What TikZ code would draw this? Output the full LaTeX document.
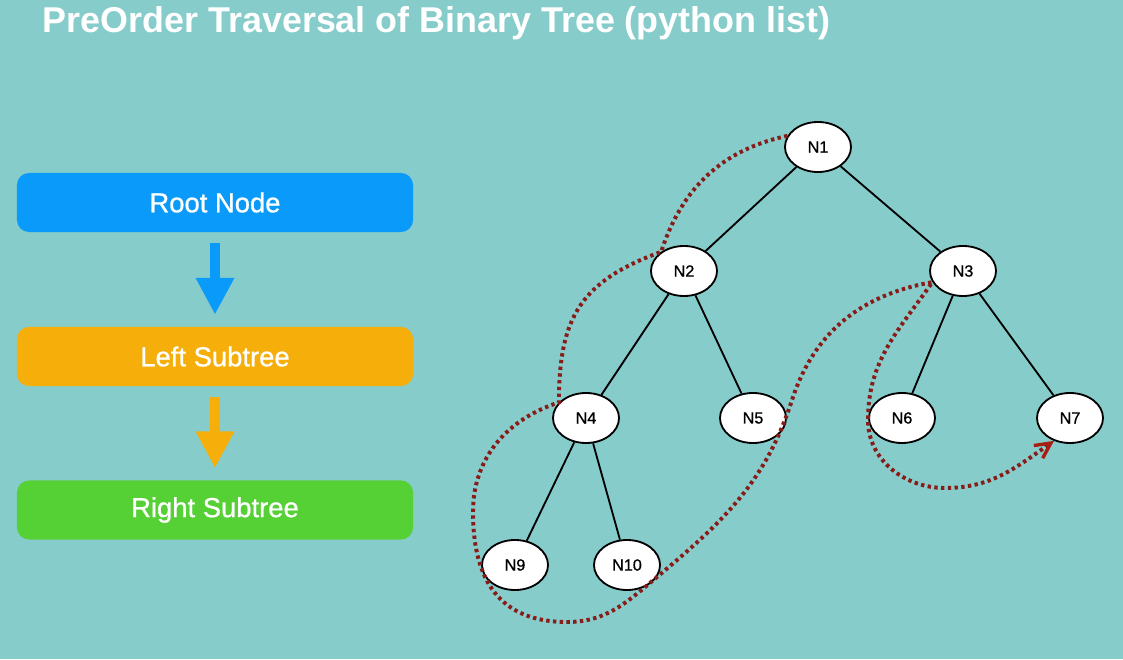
\documentclass[tikz,border=0pt]{standalone}
\usepackage{fontspec}
\setmainfont{Liberation Sans}
\newfontfamily\mediumfont[FakeBold=0.8]{Liberation Sans}
\usetikzlibrary{arrows.meta,shapes.geometric}
\definecolor{bgteal}{RGB}{134,204,203}
\definecolor{rootblue}{RGB}{10,155,250}
\definecolor{leftorange}{RGB}{245,174,10}
\definecolor{rightgreen}{RGB}{85,209,54}
\definecolor{travred}{RGB}{135,28,24}
\definecolor{tipred}{RGB}{168,30,16}
\begin{document}
\begin{tikzpicture}[x=0.025cm,y=0.025cm,
    treenode/.style={ellipse,draw=black,line width=1.3pt,fill=white,minimum width=1.65cm,minimum height=1.25cm,inner sep=0pt,font=\mediumfont\fontsize{11.5}{13}\selectfont},
    orderbox/.style={rounded corners=0.3cm,minimum width=9.9cm,minimum height=1.475cm,text=white,font=\mediumfont\fontsize{19.5}{22}\selectfont},
    flowarrow/.style={line width=0.25cm,-{Triangle[length=0.92cm,width=0.9cm]},shorten <=0.27cm,shorten >=0.3cm},
    treeedge/.style={line width=1.3pt},
    trav/.style={draw=travred,line width=2.8pt,line cap=butt,dash pattern=on 2.4pt off 2.4pt}]
                \fill[bgteal] (0,0) rectangle (1123,659);
                \useasboundingbox (0,0) rectangle (1123,659);
                \node[anchor=base west,text=white,font=\bfseries\fontsize{25.5}{30}\selectfont] (title) at (38,626) {PreOrder Traversal of Binary Tree (python list)};
                \node[orderbox,fill=rootblue] (root) at (215,456.5) {Root Node};
                \node[orderbox,fill=leftorange] (left) at (215,302.5) {Left Subtree};
                \node[orderbox,fill=rightgreen] (right) at (215,149) {Right Subtree};
                \draw[flowarrow,rootblue] (root) -- (left);
                \draw[flowarrow,leftorange] (left) -- (right);
                \node[treenode] (N1) at (818,512) {N1};
                \node[treenode] (N2) at (684,388) {N2};
                \node[treenode] (N3) at (963,388) {N3};
                \node[treenode] (N4) at (586,241) {N4};
                \node[treenode] (N5) at (753,241) {N5};
                \node[treenode] (N6) at (902,241) {N6};
                \node[treenode] (N7) at (1070,241) {N7};
                \node[treenode] (N9) at (515,94) {N9};
                \node[treenode] (N10) at (627,94) {N10};
                \foreach \a/\b in {N1/N2,N1/N3,N2/N4,N2/N5,N3/N6,N3/N7,N4/N9,N4/N10}
                    \draw[treeedge] (\a) -- (\b);
                \draw[trav,-{Straight Barb[length=11pt,width=11pt,line width=2.4pt,color=tipred]}] (N1.160) to[out=192,in=72] (N2.140) to[out=200,in=90,looseness=1.2] (N4.150) to[out=198,in=90] (473,147) to[out=270,in=180,looseness=1.2] (567,37) to[out=0,in=220] (657,82) to[out=40,in=252] (792,259) to[out=72,in=190] (N3.200) to[out=235,in=90] (868,239) to[out=270,in=180] (945,171) to[out=0,in=215] (N7.235);
            \end{tikzpicture}
\end{document}
